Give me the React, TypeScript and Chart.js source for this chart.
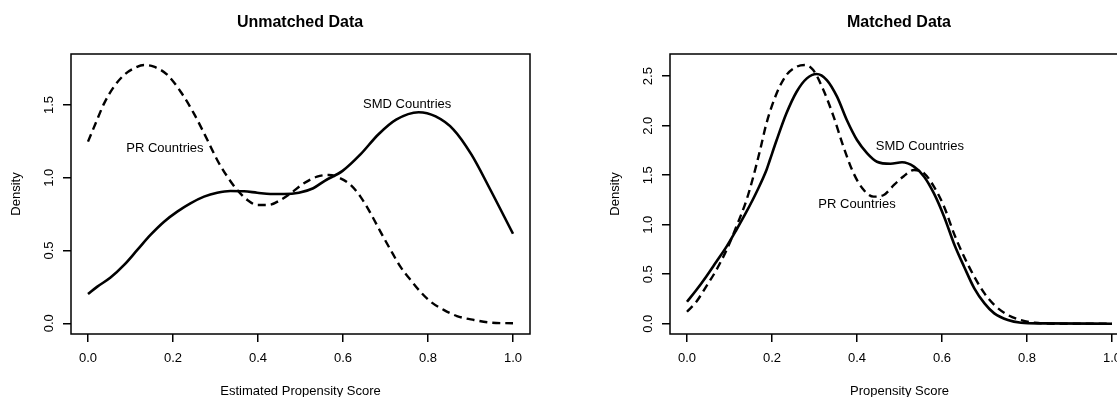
import React, { useEffect, useRef } from "react";
import { Chart, registerables } from "chart.js";

Chart.register(...registerables);

const FONT = '"Liberation Sans", Arial, Helvetica, sans-serif';
Chart.defaults.font.family = FONT;

// Tick labels
const xTicks = [0, 0.2, 0.4, 0.6, 0.8, 1.0];
const unmatchedYTicks = [0, 0.5, 1.0, 1.5];
const matchedYTicks = [0, 0.5, 1.0, 1.5, 2.0, 2.5];

// Unmatched data: PR Countries (dashed)
const unmatchedPrX = [0, 0.018, 0.038, 0.061, 0.085, 0.108, 0.132, 0.155, 0.187, 0.218, 0.249, 0.281, 0.304, 0.328, 0.351, 0.375, 0.398, 0.425, 0.453, 0.477, 0.508, 0.539, 0.567, 0.594, 0.618, 0.641, 0.665, 0.688, 0.712, 0.735, 0.759, 0.782, 0.806, 0.837, 0.868, 0.908, 0.947, 1.0];
const unmatchedPrY = [1.248, 1.374, 1.511, 1.625, 1.706, 1.751, 1.774, 1.763, 1.706, 1.591, 1.442, 1.259, 1.122, 1.007, 0.916, 0.847, 0.813, 0.813, 0.847, 0.893, 0.962, 1.007, 1.019, 0.996, 0.95, 0.87, 0.755, 0.63, 0.504, 0.389, 0.298, 0.217, 0.149, 0.092, 0.05, 0.023, 0.005, 0.0];
// Unmatched data: SMD Countries (solid)
const unmatchedSmdX = [0, 0.022, 0.053, 0.085, 0.116, 0.147, 0.179, 0.21, 0.241, 0.273, 0.304, 0.335, 0.367, 0.398, 0.429, 0.461, 0.496, 0.53, 0.557, 0.599, 0.641, 0.683, 0.725, 0.778, 0.818, 0.86, 0.902, 0.944, 1.0];
const unmatchedSmdY = [0.201, 0.252, 0.314, 0.401, 0.504, 0.607, 0.698, 0.767, 0.824, 0.87, 0.897, 0.909, 0.907, 0.897, 0.888, 0.888, 0.897, 0.928, 0.979, 1.047, 1.16, 1.297, 1.399, 1.45, 1.421, 1.331, 1.16, 0.933, 0.615];

// Matched data: PR Countries (dashed)
const matchedPrX = [0, 0.022, 0.045, 0.069, 0.093, 0.116, 0.14, 0.156, 0.172, 0.187, 0.211, 0.234, 0.258, 0.278, 0.297, 0.321, 0.345, 0.368, 0.392, 0.416, 0.439, 0.463, 0.487, 0.51, 0.534, 0.558, 0.581, 0.605, 0.628, 0.652, 0.676, 0.7, 0.723, 0.755, 0.786, 0.818, 0.865, 1.0];
const matchedPrY = [0.121, 0.222, 0.374, 0.542, 0.744, 0.98, 1.249, 1.485, 1.754, 2.024, 2.327, 2.512, 2.596, 2.613, 2.562, 2.36, 2.091, 1.788, 1.519, 1.35, 1.283, 1.3, 1.401, 1.49, 1.552, 1.519, 1.384, 1.182, 0.912, 0.677, 0.475, 0.306, 0.189, 0.088, 0.037, 0.01, 0.0, 0.0];
// Matched data: SMD Countries (solid)
const matchedSmdX = [0, 0.022, 0.045, 0.069, 0.093, 0.116, 0.14, 0.164, 0.187, 0.195, 0.211, 0.234, 0.258, 0.282, 0.305, 0.329, 0.353, 0.376, 0.4, 0.424, 0.447, 0.479, 0.506, 0.534, 0.558, 0.581, 0.605, 0.628, 0.652, 0.676, 0.7, 0.723, 0.755, 0.786, 0.833, 1.0];
const matchedSmdY = [0.222, 0.34, 0.475, 0.626, 0.778, 0.946, 1.131, 1.333, 1.552, 1.653, 1.855, 2.125, 2.343, 2.478, 2.522, 2.461, 2.293, 2.057, 1.855, 1.721, 1.636, 1.615, 1.63, 1.586, 1.485, 1.316, 1.081, 0.811, 0.576, 0.357, 0.205, 0.104, 0.037, 0.01, 0.003, 0.0];

// In-plot annotations (data coordinates)
const unmatchedNotes = [
  { text: "SMD Countries", x: 0.751, y: 1.505 },
  { text: "PR Countries", x: 0.181, y: 1.2 },
];
const matchedNotes = [
  { text: "SMD Countries", x: 0.548, y: 1.788 },
  { text: "PR Countries", x: 0.4, y: 1.2 },
];

const zip = (xs: number[], ys: number[]) => xs.map((x, i) => ({ x, y: ys[i] }));

type Note = { text: string; x: number; y: number };

interface PanelProps {
  title: string;
  xTitle: string;
  prX: number[];
  prY: number[];
  smdX: number[];
  smdY: number[];
  yMin: number;
  yMax: number;
  yTicks: number[];
  notes: Note[];
  left: number;
}

function Panel(props: PanelProps) {
  const ref = useRef<HTMLCanvasElement | null>(null);
  useEffect(() => {
    if (!ref.current) return;
    const boxPlugin = {
      id: "box",
      afterDraw(chart: any) {
        const { ctx, chartArea } = chart;
        ctx.save();
        ctx.strokeStyle = "#000";
        ctx.lineWidth = 1.5;
        ctx.strokeRect(chartArea.left, chartArea.top, chartArea.right - chartArea.left, chartArea.bottom - chartArea.top);
        ctx.restore();
      },
    };
    const notePlugin = {
      id: "notes",
      afterDatasetsDraw(chart: any) {
        const { ctx } = chart;
        const xs = chart.scales.x;
        const ys = chart.scales.y;
        ctx.save();
        ctx.font = `13px ${FONT}`;
        ctx.fillStyle = "#000";
        ctx.textAlign = "center";
        ctx.textBaseline = "middle";
        props.notes.forEach((n) => {
          ctx.fillText(n.text, xs.getPixelForValue(n.x), ys.getPixelForValue(n.y));
        });
        ctx.restore();
      },
    };
    const chart = new Chart(ref.current, {
      type: "line",
      data: {
        datasets: [
          {
            label: "PR Countries",
            data: zip(props.prX, props.prY),
            borderColor: "#000",
            borderWidth: 2.4,
            borderDash: [8, 5],
            pointRadius: 0,
            cubicInterpolationMode: "monotone",
            fill: false,
          },
          {
            label: "SMD Countries",
            data: zip(props.smdX, props.smdY),
            borderColor: "#000",
            borderWidth: 2.6,
            pointRadius: 0,
            cubicInterpolationMode: "monotone",
            fill: false,
          },
        ],
      },
      options: {
        animation: false,
        responsive: false,
        maintainAspectRatio: false,
        layout: { padding: { left: 0, right: 0, top: 0, bottom: 0 } },
        plugins: {
          legend: { display: false },
          tooltip: { enabled: false },
          title: {
            display: true,
            text: props.title,
            color: "#000",
            font: { size: 16, weight: "bold", family: FONT },
            padding: { top: 13, bottom: 21.8 },
          },
        },
        scales: {
          x: {
            type: "linear",
            min: -0.04,
            max: 1.04,
            afterBuildTicks: (s: any) => {
              s.ticks = xTicks.map((v) => ({ value: v }));
            },
            afterFit: (s: any) => {
              s.height = 63;
            },
            ticks: {
              callback: (v: any) => Number(v).toFixed(1),
              color: "#000",
              font: { size: 13 },
              padding: 8.5,
              autoSkip: false,
              minRotation: 0,
              maxRotation: 0,
            },
            grid: { drawOnChartArea: false, drawTicks: true, tickLength: 8, color: "#000", lineWidth: 1.5 },
            border: { display: false },
            title: { display: true, text: props.xTitle, color: "#000", font: { size: 13 }, padding: { top: 0, bottom: -2 } },
          },
          y: {
            type: "linear",
            position: "left",
            min: props.yMin,
            max: props.yMax,
            afterBuildTicks: (s: any) => {
              s.ticks = props.yTicks.map((v) => ({ value: v }));
            },
            afterFit: (s: any) => {
              s.width = 71;
            },
            ticks: {
              callback: (v: any) => Number(v).toFixed(1),
              color: "#000",
              font: { size: 13 },
              padding: 5,
              autoSkip: false,
              minRotation: 90,
              maxRotation: 90,
              crossAlign: "center",
            },
            grid: { drawOnChartArea: false, drawTicks: true, tickLength: 8, color: "#000", lineWidth: 1.5 },
            border: { display: false },
            title: { display: true, text: "Density", color: "#000", font: { size: 13 }, padding: { top: 8.7, bottom: 0 } },
          },
          y2: {
            type: "linear",
            position: "right",
            display: true,
            afterFit: (s: any) => {
              s.width = 70;
            },
            ticks: { display: false },
            grid: { display: false },
            border: { display: false },
          },
        },
      } as any,
      plugins: [boxPlugin, notePlugin],
    } as any);
    return () => chart.destroy();
  }, []);
  return (
    <canvas
      ref={ref}
      width={600}
      height={397}
      style={{ position: "absolute", left: props.left, top: 0, width: 600, height: 397 }}
    />
  );
}

export default function App() {
  return (
    <div
      style={{
        position: "fixed",
        left: 0,
        top: 0,
        width: 1117,
        height: 397,
        overflow: "hidden",
        background: "#fff",
      }}
    >
      <Panel
        title="Unmatched Data"
        xTitle="Estimated Propensity Score"
        prX={unmatchedPrX}
        prY={unmatchedPrY}
        smdX={unmatchedSmdX}
        smdY={unmatchedSmdY}
        yMin={-0.0735}
        yMax={1.85}
        yTicks={unmatchedYTicks}
        notes={unmatchedNotes}
        left={0}
      />
      <Panel
        title="Matched Data"
        xTitle="Propensity Score"
        prX={matchedPrX}
        prY={matchedPrY}
        smdX={matchedSmdX}
        smdY={matchedSmdY}
        yMin={-0.104}
        yMax={2.724}
        yTicks={matchedYTicks}
        notes={matchedNotes}
        left={599}
      />
    </div>
  );
}
